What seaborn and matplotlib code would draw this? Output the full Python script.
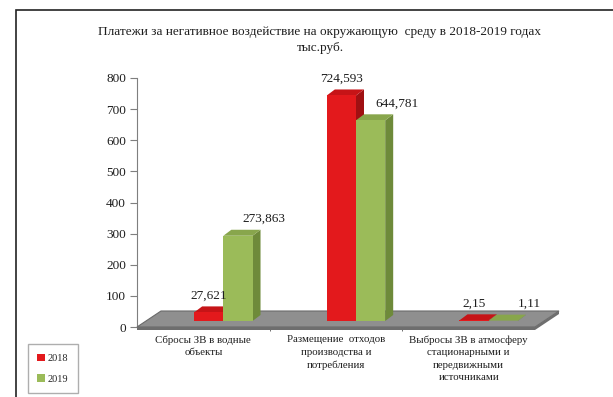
import numpy as np
import pandas as pd
import seaborn as sns
import matplotlib
matplotlib.use("Agg")
import matplotlib.pyplot as plt
from matplotlib.patches import Polygon, Rectangle, Patch
from matplotlib.transforms import IdentityTransform

# ---- data -------------------------------------------------------------
categories = [
    "Сбросы ЗВ в водные\nобъекты",
    "Размещение  отходов\nпроизводства и\nпотребления",
    "Выбросы ЗВ в атмосферу\nстационарными и\nпередвижными\nисточниками",
]
years = ["2018", "2019"]
values_2018 = [27.621, 724.593, 2.15]
values_2019 = [273.863, 644.781, 1.11]
y_ticks = [0, 100, 200, 300, 400, 500, 600, 700, 800]

title = ("Платежи за негативное воздействие на окружающую  среду в 2018-2019 годах\n"
         "тыс.руб.")

df = pd.DataFrame({
    "category": categories * 2,
    "year": [years[0]] * 3 + [years[1]] * 3,
    "value": values_2018 + values_2019,
})

# ---- style ------------------------------------------------------------
sns.set_style("white")
plt.rcParams["font.family"] = ["Liberation Serif", "DejaVu Serif"]

front = {"2018": "#E3191C", "2019": "#9BBB59"}
side = {"2018": "#A01012", "2019": "#6E8A3A"}
top = {"2018": "#C61417", "2019": "#88A64C"}
label_shift = {"2018": 0, "2019": 26}
TXT = "#1e1e1e"

W, H, DPI = 613, 397, 100
fig = plt.figure(figsize=(W / DPI, H / DPI), dpi=DPI)
ax = fig.add_axes([137 / W, 70 / H, 398 / W, 249 / H])

sns.barplot(data=df, x="category", y="value", hue="year", hue_order=years,
            palette=[front[y] for y in years], width=0.44, dodge=True,
            saturation=1, legend=False, ax=ax, edgecolor="none", zorder=3)

ax.set_xlim(-0.5, 2.5)
ax.set_ylim(0, 800)
ax.set_yticks(y_ticks)
ax.set_yticklabels([str(t) for t in y_ticks], fontsize=9.5, color=TXT)
ax.set_xlabel("")
ax.set_ylabel("")
for s in ("top", "right", "bottom"):
    ax.spines[s].set_visible(False)
ax.spines["left"].set_color("#7f7f7f")
ax.tick_params(axis="y", direction="out", length=5, width=0.8, color="#7f7f7f",
               pad=3, left=True)
ax.tick_params(axis="x", length=0, pad=6)
ax.set_xticks(range(3))
ax.set_xticklabels(categories, fontsize=7.8, linespacing=1.5, color=TXT)
ax.set_xticks([0.5, 1.5], minor=True)
ax.tick_params(axis="x", which="minor", length=3, color="#555555", bottom=True)
ax.patch.set_alpha(0)

# 3D-style geometry in pixels
ident = IdentityTransform()
fig.canvas.draw()
to_px = ax.transData.transform

# floor
FD = (24, 16)
(fx0, fy0), (fx1, _) = to_px([(-0.5, 0), (2.5, 0)])
floor = Polygon([(fx0, fy0), (fx1, fy0), (fx1 + FD[0], fy0 + FD[1]),
                 (fx0 + FD[0], fy0 + FD[1])], closed=True, transform=ident,
                facecolor="#8f8f8f", edgecolor="#6a6a6a", lw=0.8, zorder=1,
                clip_on=False)
fig.add_artist(floor)
edge = Polygon([(fx0, fy0), (fx1, fy0), (fx1 + FD[0], fy0 + FD[1]),
                (fx1 + FD[0], fy0 + FD[1] - 3), (fx1, fy0 - 3), (fx0, fy0 - 3)],
               closed=True, transform=ident, facecolor="#6e6e6e",
               edgecolor="none", zorder=1, clip_on=False)
fig.add_artist(edge)

# bars: shift onto the floor and give them depth
OFF = (20, 6)
DEP = (8, 6)
bars = []
for year, cont in zip(years, ax.containers):
    for bar in cont.patches:
        bars.append((bar.get_x(), year, bar))
bars.sort(key=lambda t: t[0])
z = 4
for _, year, bar in bars:
    x0, x1 = bar.get_x(), bar.get_x() + bar.get_width()
    h = bar.get_height()
    (px0, py0), (px1, py1) = to_px([(x0, 0), (x1, h)])
    px0 += OFF[0]; px1 += OFF[0]; py0 += OFF[1]; py1 += OFF[1]
    bar.set_visible(False)
    face = Polygon([(px0, py0), (px1, py0), (px1, py1), (px0, py1)],
                   transform=ident, facecolor=front[year], edgecolor="none",
                   zorder=z, clip_on=False)
    sidef = Polygon([(px1, py0), (px1 + DEP[0], py0 + DEP[1]),
                     (px1 + DEP[0], py1 + DEP[1]), (px1, py1)],
                    transform=ident, facecolor=side[year], edgecolor="none",
                    zorder=z, clip_on=False)
    topf = Polygon([(px0, py1), (px1, py1), (px1 + DEP[0], py1 + DEP[1]),
                    (px0 + DEP[0], py1 + DEP[1])],
                   transform=ident, facecolor=top[year], edgecolor="none",
                   zorder=z, clip_on=False)
    for p in (sidef, topf, face):
        fig.add_artist(p)
    z += 1
    label = f"{h:g}".replace(".", ",")
    fig.text(((px0 + px1) / 2 + label_shift[year]) / W, (py1 + 17) / H, label,
             ha="center", va="center", fontsize=9.5, color=TXT, zorder=20)

# title
fig.text(320 / W, (H - 40) / H, title, ha="center", va="center",
         fontsize=9.5, linespacing=1.35, color=TXT)

# legend
handles = [Patch(facecolor=front[y], edgecolor="none") for y in years]
fig.legend(handles, years, loc="lower left", bbox_to_anchor=(28 / W, 4 / H),
           fontsize=7.5, frameon=True, fancybox=False, edgecolor="#9a9a9a",
           handlelength=0.7, handleheight=0.7, handletextpad=0.3,
           labelspacing=1.1, borderpad=0.9, borderaxespad=0)

# outer frame
fig.add_artist(Rectangle((16 / W, -0.05), 1.0, (H - 10) / H + 0.05,
                         transform=fig.transFigure, fill=False,
                         edgecolor="#222222", lw=1.2, zorder=30))

fig.savefig("out.png", dpi=DPI)
